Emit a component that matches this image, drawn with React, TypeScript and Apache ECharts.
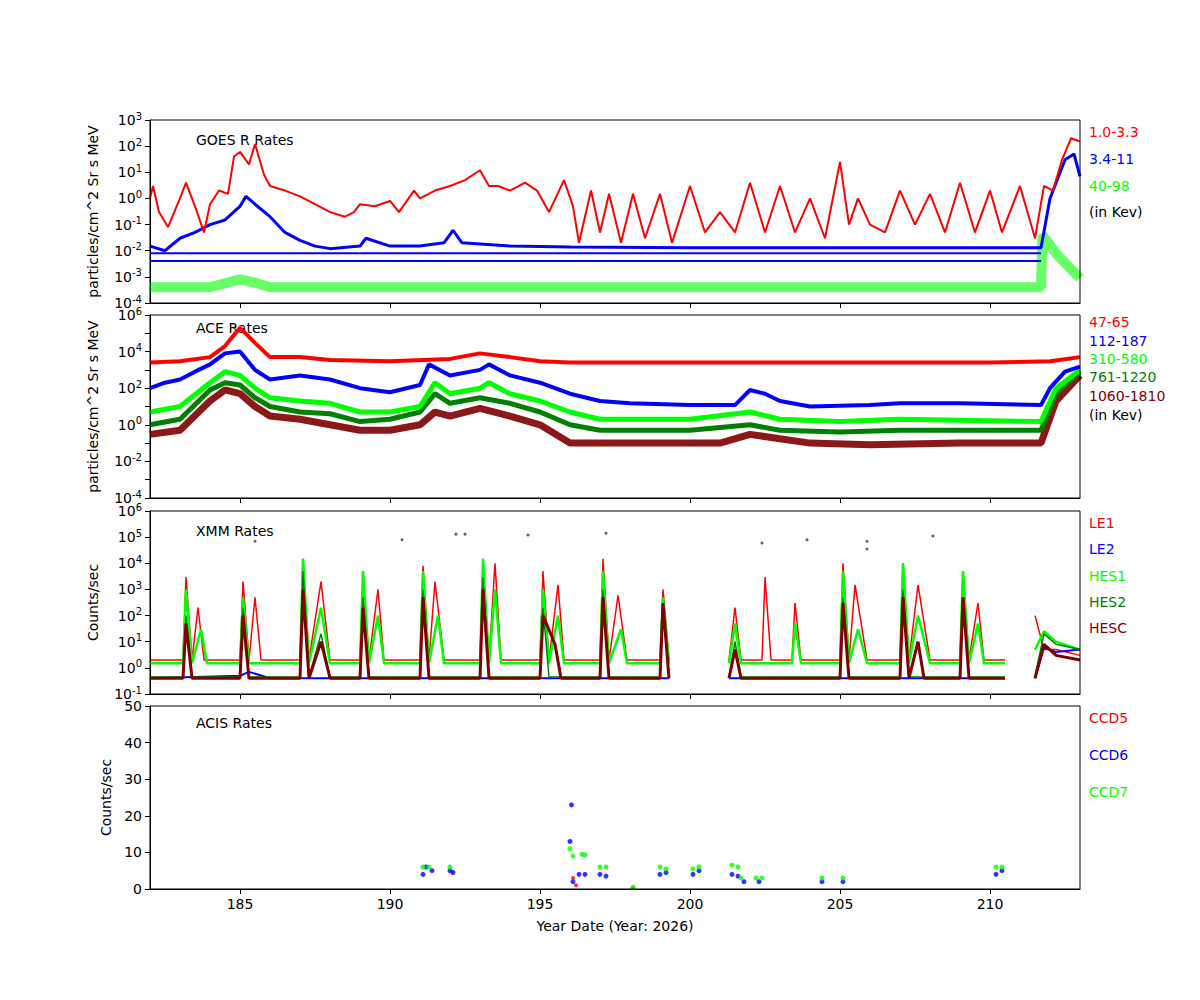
import { useEffect, useRef } from 'react';
import * as echarts from 'echarts';

const xTicks = [185, 190, 195, 200, 205, 210];

// GOES R (log)
const goesRed = [[182,1],[182.1,3],[182.3,0.3],[182.6,0.08],[183,1],[183.2,4],[183.5,0.5],[183.8,0.05],[184,0.6],[184.3,2],[184.6,1.5],[184.8,40],[185,60],[185.3,20],[185.5,120],[185.8,8],[186,3],[186.5,2],[187,1.2],[187.5,0.6],[188,0.3],[188.5,0.2],[188.8,0.3],[189,0.6],[189.5,0.5],[190,0.8],[190.3,0.3],[190.8,2],[191,1],[191.5,2],[192,3],[192.5,5],[193,12],[193.3,3],[193.6,3],[194,2],[194.5,4],[194.9,2],[195.3,0.3],[195.8,5],[196.1,0.5],[196.3,0.02],[196.7,2],[197,0.05],[197.3,1.5],[197.7,0.02],[198.1,1.5],[198.5,0.03],[199,1.5],[199.4,0.02],[200,3],[200.5,0.05],[201,0.3],[201.5,0.05],[202,4],[202.5,0.05],[203,3],[203.5,0.05],[204,1],[204.5,0.03],[205,25],[205.3,0.1],[205.6,1],[206,0.1],[206.5,0.05],[207,2],[207.5,0.1],[208,1.5],[208.5,0.05],[209,4],[209.5,0.05],[210,2],[210.4,0.05],[211,3],[211.5,0.03],[211.8,3],[212.1,2],[212.4,30],[212.7,200],[213,150]];
const goesBlue = [[182,0.015],[182.5,0.01],[183,0.03],[183.5,0.05],[184,0.1],[184.5,0.15],[185,0.5],[185.2,1.2],[185.5,0.6],[186,0.2],[186.5,0.05],[187,0.025],[187.5,0.015],[188,0.012],[189,0.015],[189.2,0.03],[190,0.015],[191,0.015],[191.8,0.02],[192.1,0.06],[192.4,0.02],[193,0.018],[194,0.015],[196,0.014],[200,0.013],[205,0.013],[210,0.013],[211.7,0.013],[212,1],[212.5,30],[212.8,50],[213,7]];
const goesBlueLow = [[182,0.008],[211.7,0.008]];
const goesBlueLow2 = [[182,0.004],[211.7,0.004]];
const goesGreen = [[182,0.0004],[184,0.0004],[185,0.0008],[185.5,0.0006],[186,0.0004],[211.7,0.0004],[211.75,0.04],[212.2,0.008],[212.7,0.002],[213,0.0009]];

// ACE (log)
const aceRed = [[182,2500],[183,3000],[184,5000],[184.5,20000],[185,200000],[185.5,30000],[186,5000],[187,5000],[188,3500],[190,3000],[192,4000],[193,8000],[194,5000],[195,3000],[196,2500],[200,2500],[205,2500],[210,2500],[212,3000],[213,5000]];
const aceBlue = [[182,100],[182.5,200],[183,300],[183.5,800],[184,2000],[184.5,8000],[185,10000],[185.5,1000],[186,300],[187,500],[188,300],[189,100],[190,60],[191,150],[191.3,2000],[192,500],[193,1000],[193.3,2000],[194,500],[195,200],[196,50],[197,20],[198,15],[200,12],[201.5,12],[202,80],[202.5,50],[203,20],[204,10],[206,12],[207,15],[209,15],[211.7,12],[212,100],[212.5,800],[213,1500]];
const aceGreen = [[182,5],[183,10],[184,200],[184.5,800],[185,500],[185.5,100],[186,30],[187,20],[188,15],[189,5],[190,5],[191,10],[191.5,200],[192,50],[193,100],[193.3,200],[194,50],[195,20],[196,5],[197,2],[200,2],[202,5],[203,2],[205,1.5],[207,2],[211.7,1.5],[212.2,100],[213,1000]];
const aceDkGreen = [[182,1],[183,2],[184,80],[184.5,200],[185,150],[185.5,30],[186,10],[187,5],[188,4],[189,1.5],[190,2],[191,5],[191.5,50],[192,15],[193,30],[194,15],[195,5],[196,1],[197,0.5],[200,0.5],[202,1],[203,0.5],[205,0.4],[207,0.5],[211.7,0.5],[212.2,50],[213,800]];
const aceMaroon = [[182,0.3],[183,0.5],[184,20],[184.5,80],[185,50],[185.5,10],[186,3],[187,2],[188,1],[189,0.5],[190,0.5],[191,1],[191.5,5],[192,3],[193,8],[194,3],[195,1],[196,0.1],[198,0.1],[201,0.1],[202,0.3],[204,0.1],[206,0.08],[209,0.1],[211.7,0.1],[212.2,20],[213,500]];

// XMM (log)
const xmmRed = [[182,2],[183.1,2],[183.2,3000],[183.4,2],[183.6,200],[183.8,2],[185,2],[185.1,2000],[185.3,2],[185.5,500],[185.7,2],[187,2],[187.1,15000],[187.3,2],[187.7,2000],[188,2],[189,2],[189.1,3000],[189.3,2],[189.6,1000],[189.8,2],[191,2],[191.1,8000],[191.3,2],[191.5,2000],[191.8,2],[193,2],[193.1,10000],[193.3,2],[193.5,10000],[193.7,2],[195,2],[195.1,5000],[195.3,2],[195.6,1500],[195.8,2],[197,2],[197.1,15000],[197.3,2],[197.6,600],[197.9,2],[199,2],[199.1,1000],[199.3,2],null,[201.3,2],[201.5,200],[201.7,2],[202.4,2],[202.5,3000],[202.7,2],[203.4,2],[203.5,300],[203.7,2],[205,2],[205.1,10000],[205.3,2],[205.5,1500],[205.9,2],[207,2],[207.1,10000],[207.3,2],[207.6,1500],[208,2],[209,2],[209.1,5000],[209.3,2],[209.6,300],[209.8,2],[210.5,2],null,[211.5,100],[211.8,5],[212.2,5],[213,3]];
const xmmGreen = [[182,1.5],[183.1,1.5],[183.2,1000],[183.4,1.5],[183.7,30],[183.9,1.5],[185,1.5],[185.1,500],[185.3,1.5],[187,1.5],[187.1,15000],[187.3,1.5],[187.7,200],[188,1.5],[189,1.5],[189.1,5000],[189.3,1.5],[189.6,100],[189.8,1.5],[191,1.5],[191.1,5000],[191.3,1.5],[191.6,100],[191.8,1.5],[193,1.5],[193.1,15000],[193.3,1.5],[193.5,1000],[193.7,1.5],[195,1.5],[195.1,1000],[195.3,1.5],[195.6,100],[195.8,1.5],[197,1.5],[197.1,5000],[197.3,1.5],[197.7,30],[197.9,1.5],[199,1.5],[199.1,500],[199.3,1.5],null,[201.3,1.5],[201.5,50],[201.7,1.5],[203.4,1.5],[203.5,50],[203.7,1.5],[205,1.5],[205.1,5000],[205.3,1.5],[205.6,30],[205.9,1.5],[207,1.5],[207.1,10000],[207.3,1.5],[207.6,100],[208,1.5],[209,1.5],[209.1,5000],[209.3,1.5],[209.6,50],[209.8,1.5],[210.5,1.5],null,[211.5,5],[211.8,25],[212.2,10],[213,5]];
const xmmDkGreen = [[182,0.45],[183.1,0.45],[183.2,100],[183.4,0.45],[185,0.45],[185.1,200],[185.3,0.45],[187,0.45],[187.1,5000],[187.3,0.45],[187.7,20],[188,0.45],[189,0.45],[189.1,500],[189.3,0.45],[191,0.45],[191.1,1000],[191.3,0.45],[193,0.45],[193.1,3000],[193.3,0.45],[195,0.45],[195.1,200],[195.3,0.45],[197,0.45],[197.1,1000],[197.3,0.45],[199,0.45],[199.1,200],[199.3,0.45],null,[201.3,0.45],[201.5,10],[201.7,0.45],[205,0.45],[205.1,500],[205.3,0.45],[207,0.45],[207.1,1000],[207.3,0.45],[209,0.45],[209.1,500],[209.3,0.45],[210.5,0.45],null,[211.5,0.5],[211.8,20],[212.2,8],[213,5]];
const xmmMaroon = [[182,0.4],[183.1,0.4],[183.2,50],[183.4,0.4],[185,0.4],[185.1,100],[185.3,0.4],[187,0.4],[187.1,1000],[187.3,0.4],[187.7,10],[188,0.4],[189,0.4],[189.1,200],[189.3,0.4],[191,0.4],[191.1,500],[191.3,0.4],[193,0.4],[193.1,1000],[193.3,0.4],[195,0.4],[195.1,100],[195.5,8],[195.7,0.4],[197,0.4],[197.1,500],[197.3,0.4],[199,0.4],[199.1,300],[199.3,0.4],null,[201.3,0.4],[201.5,5],[201.7,0.4],[205,0.4],[205.1,300],[205.3,0.4],[207,0.4],[207.1,500],[207.3,0.4],[207.6,10],[207.8,0.4],[209,0.4],[209.1,500],[209.3,0.4],[210.5,0.4],null,[211.5,0.4],[211.8,8],[212.2,3],[213,2]];
const xmmBlue = [[182,0.4],[185,0.5],[185.3,0.7],[186,0.4],[199.3,0.4],null,[201.3,0.4],[210.5,0.4],null,[211.5,0.4],[211.8,6],[212.2,4],[213,5]];
const xmmDots = [[185.5,70000],[190.4,80000],[192.2,130000],[192.5,130000],[194.6,120000],[197.2,140000],[202.4,60000],[203.9,80000],[205.9,70000],[205.9,35000],[208.1,110000]];

// ACIS (linear)
const acisGreen = [[191.1,6],[191.3,6],[192,6],[196,11],[196.1,9],[196.4,9.5],[196.5,9.3],[197,6],[197.2,6],[198.1,0.5],[199,6],[199.2,5.5],[200.1,5.5],[200.3,6],[201.4,6.5],[201.6,6],[201.7,3],[202.2,3],[202.4,3],[204.4,3],[205.1,3],[210.2,6],[210.4,6]];
const acisBlue = [[191.1,4],[191.2,6],[191.4,5],[192,5],[192.1,4.5],[196,13],[196.05,23],[196.1,2],[196.3,4],[196.5,4],[197,4],[197.2,3.5],[199,4],[199.2,4.5],[200.1,4],[200.3,5],[201.4,4],[201.6,3.5],[201.8,2],[202.3,2],[204.4,2],[205.1,2],[210.2,4],[210.4,5]];
const acisRed = [[196.1,3],[196.2,1],[198.1,0.3]];

const tops = [120, 315, 511, 706];
const H = 183;

export default function App() {
  const ref = useRef<HTMLDivElement>(null);

  useEffect(() => {
    if (!ref.current) return;
    const chart = echarts.init(ref.current, null, { renderer: 'svg' });
    const font = 'DejaVu Sans';
    const logFmt = (step: number) => (v: number) => {
      const e = Math.round(Math.log10(v));
      if (e % step !== 0) return '';
      return '10{s|' + e + '}';
    };
    const grids = tops.map((t) => ({ left: 150, width: 930, top: t, height: H }));
    const xAxes = tops.map((_, i) => ({
      type: 'value', gridIndex: i, min: 182, max: 213,
      axisLine: { onZero: false, lineStyle: { color: '#000' } },
      axisTick: { show: true, length: 5, customValues: xTicks, lineStyle: { color: '#000' } },
      axisLabel: { show: i === 3, customValues: xTicks, color: '#000', fontSize: 14, fontFamily: font },
      splitLine: { show: false },
      name: i === 3 ? 'Year Date (Year: 2026)' : '', nameLocation: 'middle', nameGap: 30,
      nameTextStyle: { color: '#000', fontSize: 14, fontFamily: font },
    }));
    const logY = (i: number, min: number, max: number, name: string, step: number) => ({
      type: 'log', gridIndex: i, min, max, logBase: 10,
      axisLine: { show: true, lineStyle: { color: '#000' } },
      axisTick: { show: true, length: 5, lineStyle: { color: '#000' } },
      axisLabel: { formatter: logFmt(step), color: '#000', fontSize: 14, fontFamily: font, rich: { s: { fontSize: 10, verticalAlign: 'top', padding: [0, 0, 8, 0], color: '#000' } } },
      splitLine: { show: false },
      name, nameLocation: 'middle', nameGap: 50,
      nameTextStyle: { color: '#000', fontSize: 14, fontFamily: font },
    });
    const yAxes = [
      logY(0, 1e-4, 1e3, 'particles/cm^2 Sr s MeV', 1),
      logY(1, 1e-4, 1e6, 'particles/cm^2 Sr s MeV', 2),
      logY(2, 1e-1, 1e6, 'Counts/sec', 1),
      {
        type: 'value', gridIndex: 3, min: 0, max: 50, interval: 10,
        axisLine: { show: true, lineStyle: { color: '#000' } },
        axisTick: { show: true, length: 5, lineStyle: { color: '#000' } },
        axisLabel: { color: '#000', fontSize: 14, fontFamily: font },
        splitLine: { show: false },
        name: 'Counts/sec', nameLocation: 'middle', nameGap: 35,
        nameTextStyle: { color: '#000', fontSize: 14, fontFamily: font },
      },
    ];
    const line = (g: number, data: any[], color: string, width = 1.5, opacity = 1) => ({
      type: 'line', xAxisIndex: g, yAxisIndex: g, data, showSymbol: false, connectNulls: false,
      lineStyle: { color, width, opacity }, itemStyle: { color }, z: 2,
    });
    const dots = (g: number, data: any[], color: string, size = 3) => ({
      type: 'scatter', xAxisIndex: g, yAxisIndex: g, data, symbolSize: size, itemStyle: { color }, z: 3,
    });
    const series = [
      line(0, goesGreen, '#00ff00', 10, 0.6),
      line(0, goesBlueLow2, '#0000ff', 2),
      line(0, goesBlueLow, '#0000ff', 2),
      line(0, goesBlue, '#0000ff', 3),
      line(0, goesRed, '#ff0000', 2),
      line(1, aceMaroon, '#800000', 7, 0.9),
      line(1, aceDkGreen, '#008000', 5),
      line(1, aceGreen, '#00ff00', 5),
      line(1, aceBlue, '#0000ff', 4),
      line(1, aceRed, '#ff0000', 4),
      line(2, xmmRed, '#ff0000', 1.5),
      line(2, xmmGreen, '#00ff00', 2.5),
      line(2, xmmBlue, '#0000ff', 2),
      line(2, xmmDkGreen, '#008000', 1.5),
      line(2, xmmMaroon, '#800000', 3),
      dots(2, xmmDots, '#404000', 3),
      dots(3, acisRed, '#ff0000', 4),
      dots(3, acisBlue, '#0000ff', 5),
      dots(3, acisGreen, '#00ff00', 5),
    ];
    const txt = (x: number, y: number, text: string, fill: string) => ({
      type: 'text', x, y, style: { text, fill, fontSize: 14, fontFamily: font },
    });
    const graphic: any[] = [
      ...tops.map((t) => ({ type: 'rect', shape: { x: 150, y: t, width: 930, height: H }, style: { fill: 'none', stroke: '#000', lineWidth: 1 }, z: 10 })),
      txt(196, 133, 'GOES R Rates', '#000'),
      txt(196, 321, 'ACE Rates', '#000'),
      txt(196, 524, 'XMM Rates', '#000'),
      txt(196, 716, 'ACIS Rates', '#000'),
      txt(1089, 125, '1.0-3.3', '#ff0000'),
      txt(1089, 152, '3.4-11', '#0000ff'),
      txt(1089, 179, '40-98', '#00ff00'),
      txt(1089, 205, '(in Kev)', '#000'),
      txt(1089, 315, '47-65', '#ff0000'),
      txt(1089, 334, '112-187', '#0000ff'),
      txt(1089, 352, '310-580', '#00ff00'),
      txt(1089, 370, '761-1220', '#008000'),
      txt(1089, 389, '1060-1810', '#800000'),
      txt(1089, 408, '(in Kev)', '#000'),
      txt(1089, 516, 'LE1', '#ff0000'),
      txt(1089, 542, 'LE2', '#0000ff'),
      txt(1089, 569, 'HES1', '#00ff00'),
      txt(1089, 595, 'HES2', '#008000'),
      txt(1089, 621, 'HESC', '#800000'),
      txt(1089, 711, 'CCD5', '#ff0000'),
      txt(1089, 748, 'CCD6', '#0000ff'),
      txt(1089, 785, 'CCD7', '#00ff00'),
    ];
    chart.setOption({
      animation: false,
      backgroundColor: '#fff',
      grid: grids, xAxis: xAxes, yAxis: yAxes, series, graphic,
    });
    return () => chart.dispose();
  }, []);

  return <div ref={ref} style={{ width: 1200, height: 1000, margin: -8 }} />;
}
